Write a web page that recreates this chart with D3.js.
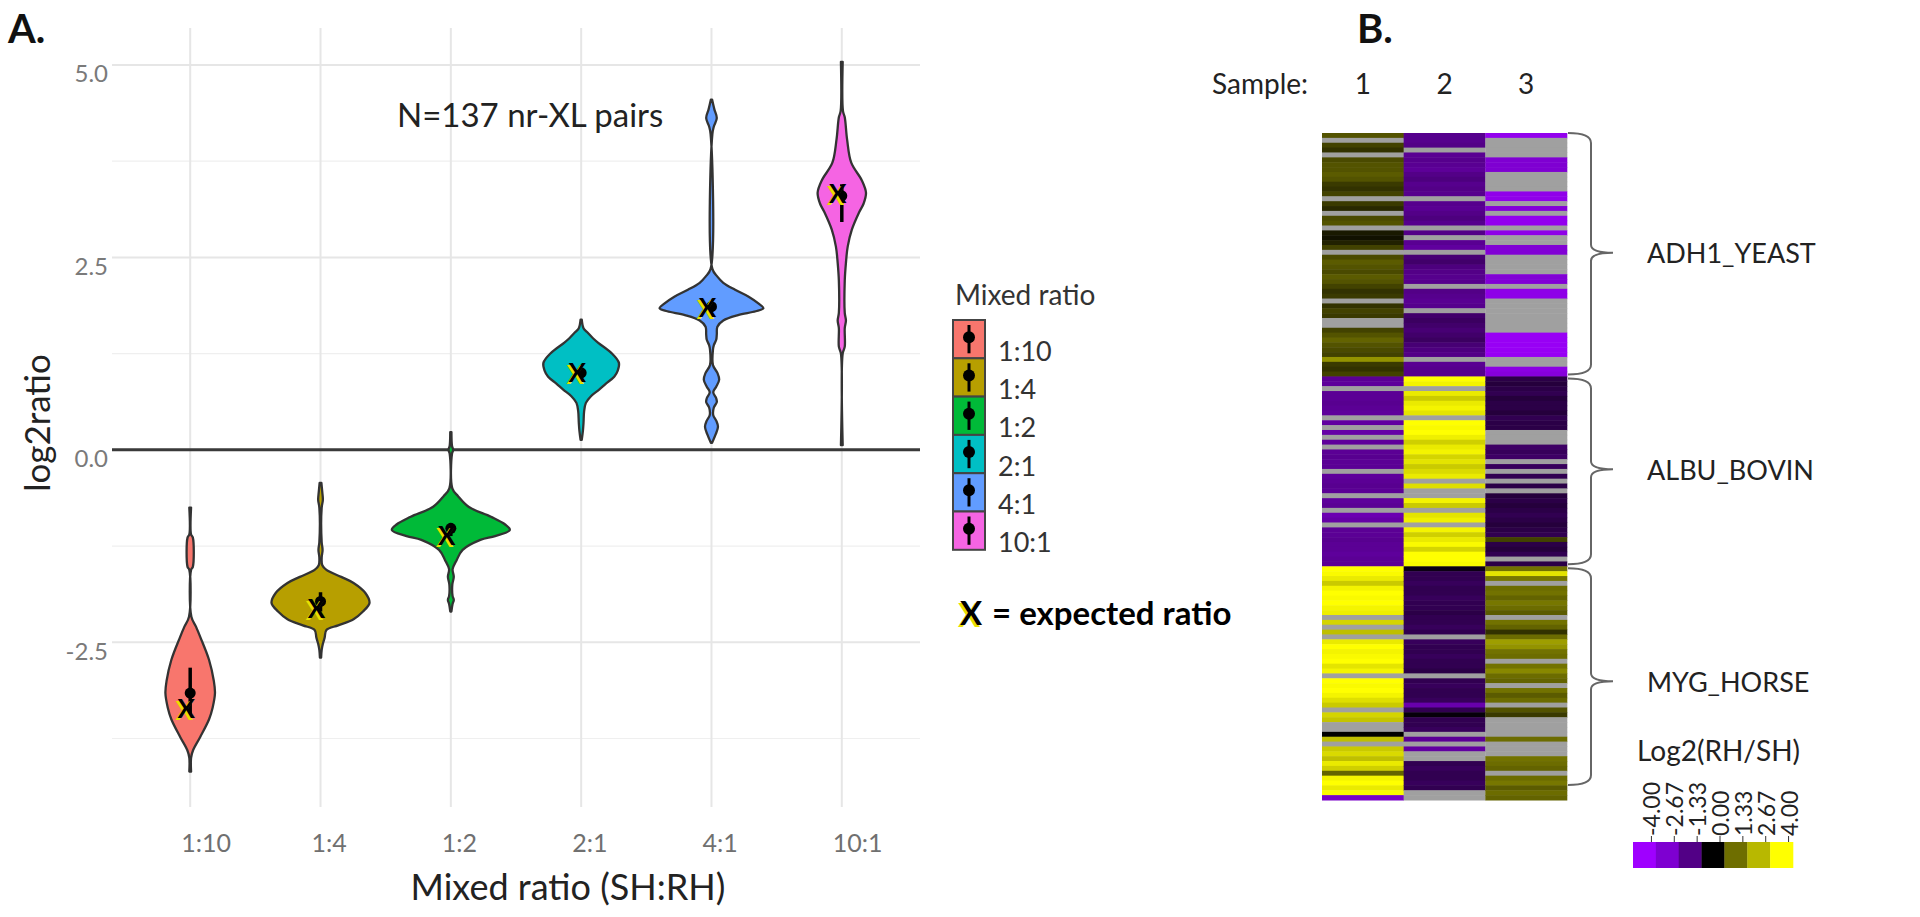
<!DOCTYPE html>
<html><head><meta charset="utf-8">
<script src="https://cdn.jsdelivr.net/npm/d3@7"></script>
<style>body{margin:0;background:#fff}svg{display:block}text{font-family:Lato,"Open Sans",sans-serif}</style>
</head><body><svg id="c" width="1920" height="917"></svg>
<script>
// ---------------- Panel A data ----------------
const categories = ["1:10","1:4","1:2","2:1","4:1","10:1"];
const groupColors = ["#F8766D","#B79F00","#00BA38","#00BFC4","#619CFF","#F564E3"];
const yMajorTicks = [-2.5, 0, 2.5, 5];
const yMinorTicks = [-3.75, -1.25, 1.25, 3.75];
const expectedRatio = [-3.35, -2.05, -1.10, 1.01, 1.86, 3.34];
const summaryMean = [-3.16, -1.97, -1.02, 1.00, 1.86, 3.30];
const summaryLow  = [-3.45, -2.10, -1.12, 0.95, 1.80, 2.96];
const summaryHigh = [-2.83, -1.85, -0.95, 1.05, 1.92, 3.45];
// violin density profiles: [log2ratio, relative density]
const violin_1_10 = [[-0.75,0.015],[-1.10,0.015],[-1.14,0.045],[-1.52,0.045],[-1.56,0.015],[-2.17,0.02],[-2.30,0.10],[-2.43,0.17],[-2.73,0.32],[-3.00,0.40],[-3.16,0.42],[-3.35,0.38],[-3.50,0.32],[-3.73,0.17],[-3.90,0.05],[-4.00,0.015],[-4.18,0.015]];
const violin_1_4 = [[-0.43,0.015],[-0.55,0.03],[-0.65,0.04],[-0.75,0.02],[-1.20,0.02],[-1.30,0.035],[-1.40,0.02],[-1.50,0.03],[-1.56,0.10],[-1.65,0.35],[-1.73,0.56],[-1.86,0.76],[-1.99,0.83],[-2.10,0.72],[-2.20,0.56],[-2.28,0.30],[-2.34,0.10],[-2.44,0.07],[-2.52,0.04],[-2.60,0.02],[-2.70,0.01]];
const violin_1_2 = [[0.23,0.01],[0.05,0.02],[0.00,0.04],[-0.05,0.02],[-0.50,0.025],[-0.60,0.12],[-0.74,0.30],[-0.87,0.68],[-0.97,0.92],[-1.04,1.00],[-1.12,0.75],[-1.17,0.50],[-1.30,0.20],[-1.43,0.10],[-1.55,0.03],[-1.65,0.05],[-1.75,0.025],[-1.90,0.03],[-1.95,0.05],[-2.00,0.03],[-2.10,0.01]];
const violin_2_1 = [[1.69,0.01],[1.58,0.04],[1.53,0.10],[1.45,0.20],[1.39,0.29],[1.26,0.51],[1.13,0.64],[1.03,0.62],[0.95,0.56],[0.86,0.42],[0.78,0.30],[0.70,0.17],[0.61,0.08],[0.50,0.05],[0.35,0.04],[0.25,0.03],[0.13,0.01]];
const violin_4_1 = [[4.55,0.01],[4.42,0.05],[4.31,0.09],[4.20,0.04],[4.10,0.015],[2.35,0.015],[2.25,0.10],[2.17,0.20],[2.08,0.40],[1.99,0.63],[1.90,0.80],[1.84,0.88],[1.80,0.75],[1.75,0.45],[1.68,0.20],[1.60,0.10],[1.50,0.09],[1.43,0.08],[1.36,0.04],[1.30,0.025],[1.10,0.025],[1.00,0.10],[0.91,0.13],[0.82,0.08],[0.75,0.03],[0.67,0.08],[0.62,0.09],[0.55,0.04],[0.45,0.03],[0.38,0.08],[0.30,0.11],[0.20,0.07],[0.09,0.01]];
const violin_10_1 = [[5.04,0.015],[4.40,0.02],[4.32,0.05],[4.03,0.09],[3.73,0.16],[3.50,0.34],[3.34,0.41],[3.20,0.37],[3.08,0.29],[2.86,0.17],[2.64,0.10],[2.43,0.07],[2.20,0.05],[1.78,0.05],[1.68,0.07],[1.58,0.05],[1.34,0.05],[1.25,0.015],[0.06,0.015]];
const violins = [violin_1_10, violin_1_4, violin_1_2, violin_2_1, violin_4_1, violin_10_1];

// ---------------- Panel B data ----------------
const samples = ["1","2","3"];
const proteins = ["ADH1_YEAST","ALBU_BOVIN","MYG_HORSE"];
const colorbarTicks = [-4.00,-2.67,-1.33,0.00,1.33,2.67,4.00];
const colorbarColors = ["#9F00FF","#7E00D1","#520086","#000000","#6E6E00","#B8B800","#FFFF00"];
const N = null;
const adh1_s1 = [1.0,N,0.8,0.6,N,0.9,1.0,1.0,1.1,1.0,0.7,0.6,0.8,N,0.7,0.5,N,0.9,1.0,N,0.3,0.2,0.4,0.8,N,0.9,1.1,1.0,0.9,1.1,1.0,0.8,0.6,0.7,N,0.6,0.8,0.7,N,N,0.8,1.0,1.2,1.0,0.9,0.8,2.0,0.7,0.6,0.8];
const adh1_s2 = [-1.45,-1.45,-1.35,N,-1.55,-1.45,-1.55,-1.65,-1.35,-1.25,-1.45,-1.35,-1.45,N,-1.45,-1.55,-1.35,-1.25,-1.45,N,-1.35,N,-1.55,-1.75,N,-1.15,-1.05,-1.25,-1.35,-1.45,-1.45,N,-1.35,-1.45,-1.55,-1.45,N,-1.05,-0.95,-1.05,-1.15,-1.05,-0.95,-1.15,-1.25,-1.35,N,-1.55,-1.45,-1.45];
const adh1_s3 = [-3.5,N,N,N,N,-2.7,-2.7,-2.7,N,N,N,N,-3.4,-3.4,N,-2.9,N,-3.5,-3.5,N,-3.3,N,N,-2.8,-2.8,N,N,N,N,-2.8,-2.8,N,-3.3,-3.3,N,N,N,N,N,N,N,-3.7,-3.7,-3.7,-3.7,-3.7,N,N,-3.2,-3.0];
const albu_s1 = [-1.6,-1.7,N,-1.6,-1.6,-1.5,-1.6,-1.7,N,-1.8,N,-1.9,N,-1.7,N,-1.6,-1.5,-1.6,-1.6,N,-1.7,-1.6,-1.5,-1.6,N,-1.7,-1.6,N,-2.1,-1.9,N,-1.6,-1.6,-1.5,-1.6,-1.6,-1.7,-1.6,-1.6];
const albu_s2 = [4.0,3.8,N,3.6,3.0,3.6,3.8,3.5,N,4.0,3.9,4.0,3.7,3.1,3.6,3.8,3.2,3.5,3.0,3.3,3.6,N,3.4,N,N,3.8,3.0,N,3.5,3.7,N,3.8,3.1,3.6,3.9,3.2,4.0,4.0,3.9];
const albu_s3 = [-0.7,-0.6,-0.7,-0.8,-0.6,-0.7,-0.7,-0.6,-0.8,-0.7,-0.7,N,N,N,-1.0,-0.9,-1.0,N,-0.9,N,-0.8,N,-0.7,N,-0.6,-0.7,-0.6,-0.7,-0.8,-0.7,-0.6,-0.7,-0.8,0.8,-0.7,-0.6,-0.8,N,-0.7];
const myg_s1 = [4.0,3.9,3.6,3.0,3.8,4.0,3.9,4.0,3.8,3.7,N,3.2,N,2.8,N,3.6,4.0,3.8,3.9,4.0,3.5,3.8,N,4.0,3.9,4.0,3.8,3.4,3.0,N,3.2,2.9,N,N,0.0,2.8,N,3.0,3.3,2.8,3.6,3.1,1.2,3.8,4.0,3.6,3.9,-2.5];
const myg_s2 = [-0.2,-0.8,-0.8,-0.9,-0.8,-0.8,-0.9,-0.8,-0.8,-0.7,-0.8,-0.8,-0.9,-0.8,N,-0.9,-0.8,-0.8,-0.9,-0.8,-0.8,-0.7,N,-0.8,-0.9,-0.8,-0.8,-0.9,-2.0,-0.8,-0.1,-0.8,-0.8,-0.9,N,-1.6,N,-1.8,N,N,-0.8,-0.9,-0.8,-0.8,-0.9,-0.8,N,N];
const myg_s3 = [1.4,3.5,1.5,N,1.3,1.4,1.2,1.5,1.3,1.1,N,1.4,1.2,0.6,1.3,2.2,2.0,1.4,1.3,N,1.4,1.8,1.3,1.2,N,1.4,1.1,1.3,N,1.0,0.7,N,N,N,N,1.3,N,N,N,1.4,1.3,1.2,N,1.3,1.5,1.1,1.3,1.2];
const blocks = [[adh1_s1,adh1_s2,adh1_s3],[albu_s1,albu_s2,albu_s3],[myg_s1,myg_s2,myg_s3]];

// ---------------- drawing ----------------
const svg = d3.select("#c");
svg.append("rect").attr("width",1920).attr("height",917).attr("fill","#fff");

// Panel A
const pL = 112, pR = 920, pT = 28, pB = 807;
const x = d3.scalePoint().domain(categories).range([pL, pR]).padding(0.6);
const y = d3.scaleLinear().domain([-4.64, 5.48]).range([pB, pT]);
const w = d3.scaleLinear().domain([0, 1]).range([0, 59]);
const gA = svg.append("g");

gA.selectAll("line.minor").data(yMinorTicks).join("line")
  .attr("x1", pL).attr("x2", pR).attr("y1", d=>y(d)).attr("y2", d=>y(d))
  .attr("stroke", "#EFEFEF").attr("stroke-width", 1.2);
gA.selectAll("line.major").data(yMajorTicks).join("line")
  .attr("x1", pL).attr("x2", pR).attr("y1", d=>y(d)).attr("y2", d=>y(d))
  .attr("stroke", "#E6E6E6").attr("stroke-width", 2);
gA.selectAll("line.vg").data(categories).join("line")
  .attr("x1", d=>x(d)).attr("x2", d=>x(d)).attr("y1", pT).attr("y2", pB)
  .attr("stroke", "#E6E6E6").attr("stroke-width", 2);
gA.append("line").attr("x1", pL).attr("x2", pR).attr("y1", y(0)).attr("y2", y(0))
  .attr("stroke", "#3a3a3a").attr("stroke-width", 3);

// y tick labels
gA.selectAll("text.yt").data(yMajorTicks).join("text")
  .attr("x", 108).attr("y", d=>y(d)+8).attr("text-anchor","end").attr("dominant-baseline","central")
  .attr("font-size", 24).attr("fill", "#7a7a7a").text(d=>d.toFixed(1));
// x tick labels
gA.selectAll("text.xt").data(categories).join("text")
  .attr("x", d=>x(d)-9).attr("y", 842).attr("text-anchor","start").attr("dominant-baseline","central")
  .attr("font-size", 25).attr("fill", "#707070").text(d=>d);
// axis titles
gA.append("text").attr("x", 568).attr("y", 886).attr("text-anchor","middle").attr("dominant-baseline","central")
  .attr("font-size", 36).attr("fill","#222").text("Mixed ratio (SH:RH)");
gA.append("text").attr("transform","translate(36,423) rotate(-90)").attr("text-anchor","middle").attr("dominant-baseline","central")
  .attr("font-size", 35).attr("fill","#222").text("log2ratio");
gA.append("text").attr("x", 397).attr("y", 127).attr("font-size", 33).attr("fill","#222").text("N=137 nr-XL pairs");
svg.append("text").attr("x", 8).attr("y", 43).attr("font-size", 40).attr("font-weight","bold").attr("fill","#111").text("A.");

// violins
const area = d3.area().curve(d3.curveCatmullRom.alpha(0.5));
violins.forEach((prof, i) => {
  const cx = x(categories[i]);
  area.y(d=>y(d[0])).x0(d=>cx - w(d[1])).x1(d=>cx + w(d[1]));
  gA.append("path").attr("d", area(prof)).attr("fill", groupColors[i])
    .attr("stroke", "#333").attr("stroke-width", 2.3).attr("stroke-linejoin","round");
});
// summary pointranges
categories.forEach((c, i) => {
  const cx = x(c);
  gA.append("line").attr("x1", cx).attr("x2", cx).attr("y1", y(summaryLow[i])).attr("y2", y(summaryHigh[i]))
    .attr("stroke", "#000").attr("stroke-width", 3.5);
  gA.append("circle").attr("cx", cx).attr("cy", y(summaryMean[i])).attr("r", 5.5).attr("fill", "#000");
});
// expected ratio X markers
categories.forEach((c, i) => {
  const cx = x(c) - 4, cy = y(expectedRatio[i]);
  gA.append("text").attr("x", cx-2).attr("y", cy+2).attr("text-anchor","middle").attr("dominant-baseline","central")
    .attr("font-size", 26).attr("font-weight","bold").attr("fill","#E8E000").text("X");
  gA.append("text").attr("x", cx).attr("y", cy).attr("text-anchor","middle").attr("dominant-baseline","central")
    .attr("font-size", 26).attr("font-weight","bold").attr("fill","#000").text("X");
});

// legend
const lg = svg.append("g");
lg.append("text").attr("x", 955).attr("y", 305).attr("font-size", 28).attr("fill","#333").text("Mixed ratio");
const keyH = 38.3, keyTop = 320, keyX = 953, keyW = 32;
categories.forEach((c, i) => {
  const ty = keyTop + i*keyH;
  lg.append("rect").attr("x", keyX).attr("y", ty).attr("width", keyW).attr("height", keyH)
    .attr("fill", groupColors[i]).attr("stroke", "#444").attr("stroke-width", 2);
  lg.append("line").attr("x1", keyX+keyW/2).attr("x2", keyX+keyW/2).attr("y1", ty+5).attr("y2", ty+keyH-5)
    .attr("stroke","#000").attr("stroke-width", 3);
  lg.append("circle").attr("cx", keyX+keyW/2).attr("cy", ty+keyH/2-2).attr("r", 6).attr("fill","#000");
  lg.append("text").attr("x", 998).attr("y", ty+keyH/2+11).attr("dominant-baseline","central")
    .attr("font-size", 27).attr("fill","#333").text(c);
});
lg.append("text").attr("x", 958).attr("y", 627).attr("font-size", 33).attr("font-weight","bold").attr("fill","#E8E000").text("X");
lg.append("text").attr("x", 960).attr("y", 625).attr("font-size", 33).attr("font-weight","bold").attr("fill","#000").text("X");
lg.append("text").attr("x", 992).attr("y", 625).attr("font-size", 33).attr("font-weight","bold").attr("fill","#000").text("= expected ratio");

// Panel B
const gB = svg.append("g");
svg.append("text").attr("x", 1357).attr("y", 43).attr("font-size", 40).attr("font-weight","bold").attr("fill","#111").text("B.");
const nRows = blocks.reduce((s,b)=>s+b[0].length, 0);
const rowY = d3.scaleBand().domain(d3.range(nRows)).range([133, 800]);
const colX = d3.scaleBand().domain(samples).range([1322, 1567]);
const heat = d3.scaleLinear().domain(colorbarTicks).range(colorbarColors).clamp(true);
let start = 0;
const blockSpans = [];
blocks.forEach((blk, bi) => {
  const n = blk[0].length;
  blk.forEach((col, ci) => {
    col.forEach((v, r) => {
      gB.append("rect").attr("x", colX(samples[ci])).attr("y", rowY(start + r))
        .attr("width", colX.bandwidth()+0.3).attr("height", rowY.bandwidth()+0.5)
        .attr("fill", v === null ? "#A0A0A0" : heat(v));
    });
  });
  blockSpans.push([rowY(start), rowY(start + n - 1) + rowY.bandwidth()]);
  start += n;
});
gB.append("text").attr("x", 1212).attr("y", 83).attr("dominant-baseline","central").attr("font-size", 28).attr("fill","#222").text("Sample:");
gB.selectAll("text.smp").data(samples).join("text")
  .attr("x", d=>colX(d)+colX.bandwidth()/2).attr("y", 83).attr("text-anchor","middle").attr("dominant-baseline","central")
  .attr("font-size", 28).attr("fill","#222").text(d=>d);

// braces
const bx0 = 1568, bxs = 1591, bxt = 1613;
blockSpans.forEach((sp, i) => {
  const y0 = sp[0] + (i===0 ? 0 : 2), y1 = sp[1] - (i===2 ? 15 : 2), ym = (sp[0]+sp[1])/2 - 2;
  const p = d3.path();
  p.moveTo(bx0, y0); p.quadraticCurveTo(bxs, y0, bxs, y0+10);
  p.lineTo(bxs, ym-8); p.quadraticCurveTo(bxs, ym, bxt, ym);
  p.moveTo(bxt, ym); p.quadraticCurveTo(bxs, ym, bxs, ym+8);
  p.lineTo(bxs, y1-10); p.quadraticCurveTo(bxs, y1, bx0, y1);
  gB.append("path").attr("d", p.toString()).attr("fill","none").attr("stroke","#666").attr("stroke-width", 2);
  gB.append("text").attr("x", 1647).attr("y", ym).attr("dominant-baseline","central")
    .attr("font-size", 27).attr("fill","#222").text(proteins[i]);
});

// colour key
const cbX = d3.scaleBand().domain(colorbarTicks).range([1633, 1793]);
gB.append("text").attr("x", 1637).attr("y", 750).attr("dominant-baseline","central").attr("font-size", 28).attr("fill","#222").text("Log2(RH/SH)");
gB.selectAll("rect.cb").data(colorbarTicks).join("rect")
  .attr("x", d=>cbX(d)).attr("y", 842).attr("width", cbX.bandwidth()+0.3).attr("height", 26).attr("fill", d=>heat(d));
gB.selectAll("line.cbt").data(colorbarTicks).join("line")
  .attr("x1", d=>cbX(d)+cbX.bandwidth()/2+7).attr("x2", d=>cbX(d)+cbX.bandwidth()/2+7).attr("y1", 836).attr("y2", 842)
  .attr("stroke","#333").attr("stroke-width",1);
gB.selectAll("text.cbl").data(colorbarTicks).join("text")
  .attr("transform", d=>`translate(${cbX(d)+cbX.bandwidth()/2+7},836) rotate(-90)`)
  .attr("dominant-baseline","central").attr("font-size", 23).attr("fill","#222").text(d=>d.toFixed(2));
</script></body></html>
